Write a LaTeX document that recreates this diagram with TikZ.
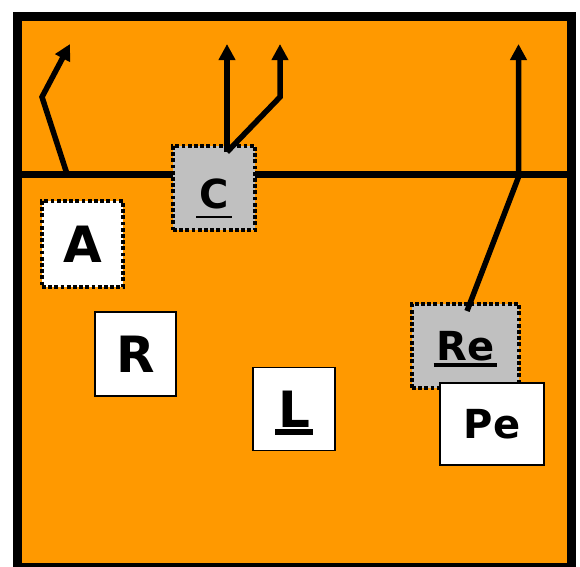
\documentclass[tikz,border=0pt]{standalone}
\usepackage{fontspec}
\setmainfont{DejaVu Sans}
\usetikzlibrary{arrows.meta,positioning}
\definecolor{fieldorange}{HTML}{FF9900}
\definecolor{boxgray}{HTML}{C0C0C0}
% underline: gap, bar thickness, text
\newcommand{\ulbar}[3]{\vtop{\hbox{\kern3pt#3\kern3pt}\kern#1\hrule height#2}}

\begin{document}
\begin{tikzpicture}[x=1pt, y=-1pt,
  solidbox/.style={draw=black, line width=1.8pt, fill=white, inner sep=0pt},
  dotbox/.style={draw=black, line width=3.4pt, dash pattern=on 3.8pt off 2.4pt, inner sep=0pt},
  bigtext/.style={font=\fontsize{50}{60}\selectfont\bfseries, text height=36.5pt, text depth=0pt},
  smalltext/.style={font=\fontsize{40}{48}\selectfont\bfseries, text height=29.2pt, text depth=0pt},
  flow/.style={line width=5.5pt, -{Triangle[length=16pt,width=16pt]}}]
  \useasboundingbox (0,0) rectangle (580,566);
  % field and frame
  \fill[fieldorange] (17,16) rectangle (571.5,567.5);
  \draw[line width=7pt] (17,174.5) -- (571.5,174.5);
  \draw[line width=9pt] (17,16) rectangle (571.5,567.5);

  % boxes
  \node[dotbox, fill=white, bigtext, minimum width=81pt, minimum height=86pt]
    (A) at (82.5,244) {A};
  \node[dotbox, fill=boxgray, smalltext, text height=41pt, minimum width=82pt, minimum height=84pt]
    (C) at (214,188) {\ulbar{7pt}{1.6pt}{C}};
  \node[solidbox, bigtext, minimum width=81pt, minimum height=84pt]
    (R) at (135.5,354) {R};
  \node[solidbox, bigtext, minimum width=82pt, minimum height=83pt]
    (L) at (294,409) {\ulbar{2pt}{6pt}{L}};
  \node[dotbox, fill=boxgray, smalltext, minimum width=107pt, minimum height=84pt]
    (Re) at (465.5,346) {\ulbar{2pt}{4pt}{Re}};
  \node[solidbox, smalltext, minimum width=104pt, minimum height=82pt]
    (Pe) at (492,424) {Pe};

  % arrows
  \coordinate (lbase) at (67,174);
  \coordinate (lbend) at (42,97);
  \coordinate (ltip) at (70,44);
  \coordinate (cstart) at (227,152);
  \coordinate (ctipa) at (227,44);
  \coordinate (cbend) at (280,97);
  \coordinate (ctipb) at (280,44);
  \coordinate (restart) at (467,311);
  \coordinate (rebend) at (518.5,177);
  \coordinate (retip) at (518.5,44);
  \draw[flow] (lbase) -- (lbend) -- (ltip);
  \draw[flow] (cstart) -- (ctipa);
  \draw[flow] (cstart) -- (cbend) -- (ctipb);
  \draw[flow] (restart) -- (rebend) -- (retip);
\end{tikzpicture}
\end{document}
